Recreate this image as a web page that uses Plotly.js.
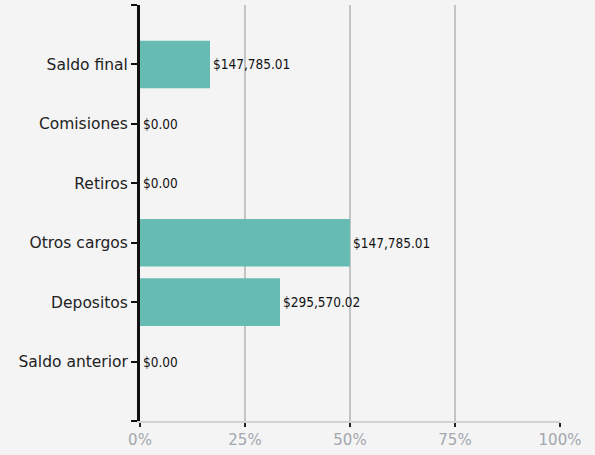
<!DOCTYPE html>
<html>
<head>
<meta charset="utf-8">
<script src="https://cdn.plot.ly/plotly-3.0.1.min.js"></script>
<style>
html,body{margin:0;padding:0;background:#f4f4f4;}
#chart{width:595px;height:455px;}
</style>
</head>
<body>
<div id="chart"></div>
<script>
// bottom-to-top order
const categories = ["Saldo anterior", "Depositos", "Otros cargos", "Retiros", "Comisiones", "Saldo final"];
const percentValues = [0, 33.33, 50, 0, 0, 16.67];
const amountLabels = ["$0.00", "$295,570.02", "$147,785.01", "$0.00", "$0.00", "$147,785.01"];
const xTicks = [0, 25, 50, 75, 100];

const yPos = categories.map((c, i) => i);
const yTickVals = [-1].concat(yPos, [categories.length]);
const yTickText = [""].concat(categories, [""]);

const trace = {
  type: "bar",
  orientation: "h",
  x: percentValues,
  y: yPos,
  text: amountLabels,
  textposition: "outside",
  cliponaxis: false,
  textfont: {family: "DejaVu Sans Condensed", size: 13.5, color: "#111"},
  marker: {color: "#66bbb2", line: {width: 0}},
  width: 0.8,
  hoverinfo: "none"
};

const layout = {
  width: 595, height: 455,
  margin: {l: 140, r: 35, t: 5, b: 34},
  paper_bgcolor: "#f4f4f4",
  plot_bgcolor: "#f4f4f4",
  showlegend: false,
  xaxis: {
    range: [0, 100],
    tickvals: xTicks,
    ticktext: xTicks.map(v => v + "%"),
    showgrid: true, gridcolor: "#c4c4c4", gridwidth: 1.5,
    zeroline: false,
    showline: true, linecolor: "#d2d2d2", linewidth: 2,
    ticks: "outside", ticklen: 4, tickwidth: 2, tickcolor: "#222",
    tickfont: {family: "DejaVu Sans", size: 15, color: "#a3a7ae"},
    fixedrange: true
  },
  yaxis: {
    range: [-1, categories.length],
    tickvals: yTickVals,
    ticktext: yTickText,
    showgrid: false, zeroline: false,
    showline: true, linecolor: "#111", linewidth: 3,
    ticks: "outside", ticklen: 6, tickwidth: 2, tickcolor: "#111",
    tickfont: {family: "DejaVu Sans", size: 15.5, color: "#222"},
    fixedrange: true
  }
};

Plotly.newPlot("chart", [trace], layout, {displayModeBar: false, staticPlot: true});
</script>
</body>
</html>
